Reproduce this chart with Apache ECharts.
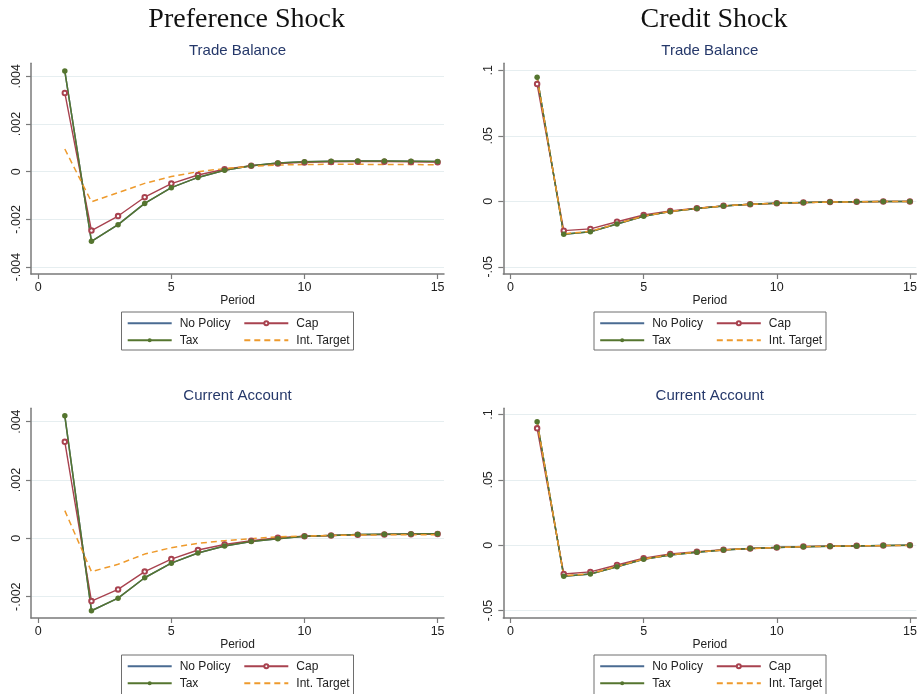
<!DOCTYPE html>
<html>
<head>
<meta charset="utf-8">
<script src="https://cdn.jsdelivr.net/npm/echarts@6/dist/echarts.min.js"></script>
<style>
html,body{margin:0;padding:0;background:#fff;}
#chart{width:920px;height:694px;}
</style>
</head>
<body>
<div id="chart"></div>
<script>
// ---------- data ----------
const periods = [1,2,3,4,5,6,7,8,9,10,11,12,13,14,15];
const seriesNames = ['No Policy','Cap','Tax','Int. Target'];
const columnTitles = ['Preference Shock','Credit Shock'];
const panelTitles = ['Trade Balance','Current Account'];
const xTicks = [0,5,10,15];
const prefTBTicks = [-0.004,-0.002,0,0.002,0.004];
const prefCATicks = [-0.002,0,0.002,0.004];
const credTicks = [-0.05,0,0.05,0.1];

// Preference shock - Trade Balance
const prefTB_noPolicy = [0.00422,-0.00292,-0.00222,-0.00133,-0.00067,-0.00024,0.00006,0.00025,0.00036,0.00042,0.00044,0.00045,0.00045,0.00044,0.00043];
const prefTB_cap      = [0.0033,-0.00247,-0.00186,-0.00107,-0.0005,-0.00014,0.0001,0.00025,0.00034,0.00039,0.00041,0.00042,0.00042,0.00041,0.0004];
const prefTB_tax      = [0.00422,-0.00292,-0.00222,-0.00133,-0.00067,-0.00024,0.00006,0.00025,0.00036,0.00042,0.00044,0.00045,0.00045,0.00044,0.00043];
const prefTB_int      = [0.00095,-0.00126,-0.00088,-0.00049,-0.0002,0.0,0.00013,0.00022,0.00028,0.0003,0.00031,0.00031,0.0003,0.0003,0.00029];

// Preference shock - Current Account
const prefCA_noPolicy = [0.0042,-0.00248,-0.00205,-0.00135,-0.00085,-0.0005,-0.00026,-0.00011,-0.00001,0.00007,0.0001,0.00013,0.00014,0.00015,0.00016];
const prefCA_cap      = [0.00331,-0.00215,-0.00175,-0.00114,-0.00071,-0.0004,-0.00021,-0.00008,0.00002,0.00007,0.0001,0.00012,0.00013,0.00014,0.00015];
const prefCA_tax      = [0.0042,-0.00248,-0.00205,-0.00135,-0.00085,-0.0005,-0.00026,-0.00011,-0.00001,0.00007,0.0001,0.00013,0.00014,0.00015,0.00016];
const prefCA_int      = [0.00095,-0.00114,-0.00089,-0.00054,-0.00032,-0.00017,-0.00008,-0.00001,0.00005,0.00008,0.0001,0.00011,0.00012,0.00012,0.00012];

// Credit shock - Trade Balance
const credTB_noPolicy = [0.0947,-0.0252,-0.0232,-0.0173,-0.0115,-0.0079,-0.0056,-0.0036,-0.0023,-0.0015,-0.001,-0.0006,-0.0004,-0.0002,-0.0001];
const credTB_cap      = [0.0895,-0.0224,-0.0211,-0.0156,-0.0105,-0.0074,-0.0053,-0.0035,-0.0023,-0.0015,-0.001,-0.0006,-0.0004,-0.0002,-0.0001];
const credTB_tax      = [0.0947,-0.0252,-0.0232,-0.0173,-0.0115,-0.0079,-0.0056,-0.0036,-0.0023,-0.0015,-0.001,-0.0006,-0.0004,-0.0002,-0.0001];
const credTB_int      = [0.0945,-0.0248,-0.0229,-0.0171,-0.0113,-0.0078,-0.0055,-0.0035,-0.0023,-0.0015,-0.001,-0.0006,-0.0004,-0.0002,-0.0001];

// Credit shock - Current Account
const credCA_noPolicy = [0.0946,-0.0237,-0.022,-0.0164,-0.0107,-0.0074,-0.0054,-0.0036,-0.0026,-0.0018,-0.0011,-0.0008,-0.0005,-0.0003,-0.0001];
const credCA_cap      = [0.0895,-0.022,-0.0204,-0.0151,-0.01,-0.0067,-0.005,-0.0034,-0.0025,-0.0017,-0.001,-0.0007,-0.0004,-0.0003,-0.0001];
const credCA_tax      = [0.0946,-0.0237,-0.022,-0.0164,-0.0107,-0.0074,-0.0054,-0.0036,-0.0026,-0.0018,-0.0011,-0.0008,-0.0005,-0.0003,-0.0001];
const credCA_int      = [0.0944,-0.0234,-0.0217,-0.0162,-0.0106,-0.0073,-0.0053,-0.0036,-0.0026,-0.0018,-0.0011,-0.0008,-0.0005,-0.0003,-0.0001];

// ---------- styling / layout ----------
const COLORS = {navy:'#4a6b92', maroon:'#a8424f', green:'#55752f', orange:'#ee9a2c'};
const AXIS_COLOR = '#7a7a7a';
const GRID_COLOR = '#e6eef0';
const SANS = 'Liberation Sans, Arial, Helvetica, sans-serif';

const panels = [
  {left:31,    top:63.3,  height:210.7, yMin:-0.00429, yMax:0.004545, ticks:prefTBTicks,
   data:[prefTB_noPolicy,prefTB_cap,prefTB_tax,prefTB_int], boxTop:312, boxLeft:121.5},
  {left:503.3, top:63.3,  height:210.7, yMin:-0.0555,  yMax:0.1053,  ticks:credTicks,
   data:[credTB_noPolicy,credTB_cap,credTB_tax,credTB_int], boxTop:312, boxLeft:594},
  {left:31,    top:408.3, height:209.7, yMin:-0.00273, yMax:0.004457, ticks:prefCATicks,
   data:[prefCA_noPolicy,prefCA_cap,prefCA_tax,prefCA_int], boxTop:655, boxLeft:121.5},
  {left:503.3, top:408.3, height:209.7, yMin:-0.0557,  yMax:0.1048,  ticks:credTicks,
   data:[credCA_noPolicy,credCA_cap,credCA_tax,credCA_int], boxTop:655, boxLeft:594}
];
const PLOT_W = 413;

function fmtY(v){
  if (v === 0) return '0';
  return String(v).replace('0.', '.');
}

const grids = [], xAxes = [], yAxes = [], series = [], legends = [], graphics = [];

panels.forEach((p, i) => {
  grids.push({left:p.left, top:p.top, width:PLOT_W, height:p.height, containLabel:false});
  xAxes.push({
    type:'value', gridIndex:i, min:-0.27, max:15.24,
    name:'Period', nameLocation:'middle', nameGap:17,
    nameTextStyle:{fontFamily:SANS, fontSize:12, color:'#222', verticalAlign:'top'},
    axisLine:{show:true, onZero:false, lineStyle:{color:AXIS_COLOR, width:1.5}},
    axisTick:{show:true, length:5, customValues:xTicks, lineStyle:{color:AXIS_COLOR, width:1.2}},
    axisLabel:{customValues:xTicks, margin:7, fontFamily:SANS, fontSize:12.5, color:'#222'},
    splitLine:{show:false}
  });
  yAxes.push({
    type:'value', gridIndex:i, min:p.yMin, max:p.yMax,
    axisLine:{show:true, onZero:false, lineStyle:{color:AXIS_COLOR, width:1.5}},
    axisTick:{show:true, length:5, customValues:p.ticks, lineStyle:{color:AXIS_COLOR, width:1.2}},
    axisLabel:{customValues:p.ticks, rotate:90, margin:8, fontFamily:SANS, fontSize:12.5, color:'#222',
               formatter:fmtY},
    splitLine:{show:true, lineStyle:{color:GRID_COLOR, width:1.2}}
  });
  const pairs = arr => periods.map((t, k) => [t, arr[k]]);
  series.push({
    name:seriesNames[0], type:'line', xAxisIndex:i, yAxisIndex:i, data:pairs(p.data[0]),
    symbol:'none', lineStyle:{color:COLORS.navy, width:1.5}, itemStyle:{color:COLORS.navy}
  });
  series.push({
    name:seriesNames[1], type:'line', xAxisIndex:i, yAxisIndex:i, data:pairs(p.data[1]),
    symbol:'emptyCircle', symbolSize:4.5, showSymbol:true,
    lineStyle:{color:COLORS.maroon, width:1.4}, itemStyle:{color:COLORS.maroon, borderWidth:1}
  });
  series.push({
    name:seriesNames[2], type:'line', xAxisIndex:i, yAxisIndex:i, data:pairs(p.data[2]),
    symbol:'circle', symbolSize:5.5, showSymbol:true,
    lineStyle:{color:COLORS.green, width:1.5}, itemStyle:{color:COLORS.green}
  });
  series.push({
    name:seriesNames[3], type:'line', xAxisIndex:i, yAxisIndex:i, data:pairs(p.data[3]),
    symbol:'none', lineStyle:{color:COLORS.orange, width:1.5, type:[6,4]}, itemStyle:{color:COLORS.orange}
  });

  // legend box + two legend columns
  graphics.push({type:'rect', shape:{x:p.boxLeft, y:p.boxTop, width:232, height:p.boxTop>600?45:38},
                 style:{fill:'#fff', stroke:'#6e6e6e', lineWidth:1}, z:-1});
  const legCommon = {orient:'vertical', padding:0, itemGap:3, itemWidth:44, itemHeight:5,
                     selectedMode:false,
                     textStyle:{fontFamily:SANS, fontSize:12, color:'#222', lineHeight:14, padding:[0,0,0,3]}};
  legends.push(Object.assign({}, legCommon, {left:p.boxLeft+5.2, top:p.boxTop+4.3,
    data:[{name:seriesNames[0], itemStyle:{opacity:0}}, {name:seriesNames[2]}]}));
  legends.push(Object.assign({}, legCommon, {left:p.boxLeft+121.8, top:p.boxTop+4.3,
    data:[{name:seriesNames[1]}, {name:seriesNames[3], itemStyle:{opacity:0}}]}));

  // panel subtitle
  graphics.push({type:'text', x:p.left + PLOT_W/2, y:p.top - 12.5,
    style:{text:panelTitles[i < 2 ? 0 : 1], font:'15px ' + SANS, fill:'#25386a',
           align:'center', verticalAlign:'middle'}});
});

// column titles
graphics.push({type:'text', x:246.7, y:20,
  style:{text:columnTitles[0], font:'28px "Liberation Serif", "Times New Roman", serif', fill:'#111',
         align:'center', verticalAlign:'middle'}});
graphics.push({type:'text', x:714, y:20,
  style:{text:columnTitles[1], font:'28px "Liberation Serif", "Times New Roman", serif', fill:'#111',
         align:'center', verticalAlign:'middle'}});

const chart = echarts.init(document.getElementById('chart'), null, {renderer:'canvas'});
chart.setOption({
  animation:false,
  backgroundColor:'#fff',
  grid:grids, xAxis:xAxes, yAxis:yAxes, series:series, legend:legends, graphic:graphics
});
</script>
</body>
</html>
